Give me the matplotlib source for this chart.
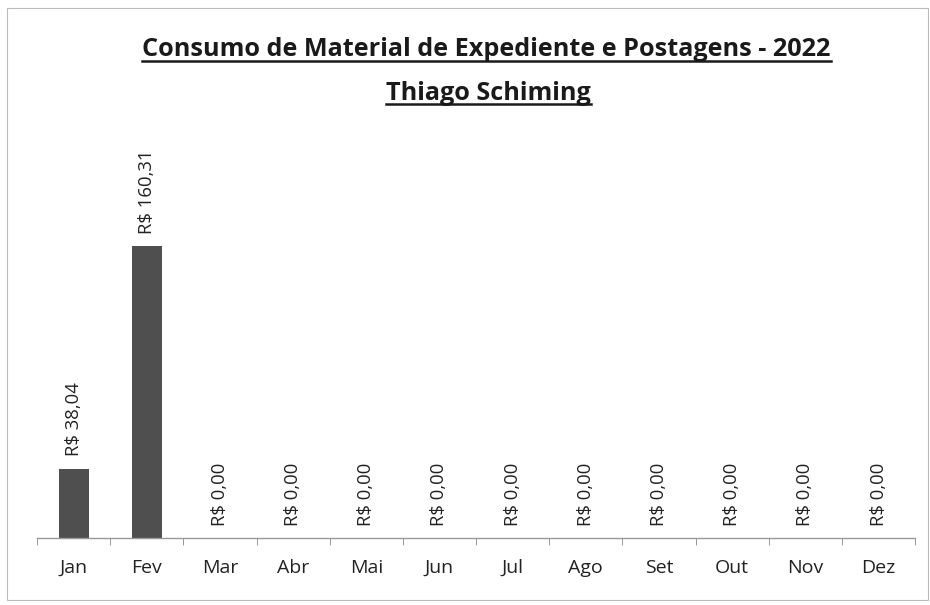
import matplotlib.pyplot as plt
from matplotlib.patches import Rectangle
import numpy as np

meses = ["Jan", "Fev", "Mar", "Abr", "Mai", "Jun", "Jul", "Ago", "Set", "Out", "Nov", "Dez"]
valores = [38.04, 160.31, 0, 0, 0, 0, 0, 0, 0, 0, 0, 0]
titulo = "Consumo de Material de Expediente e Postagens - 2022"
subtitulo = "Thiago Schiming"

plt.rcParams['font.family'] = ['Open Sans', 'DejaVu Sans']

fig = plt.figure(figsize=(9.3, 6.05), dpi=100)
ax = fig.add_axes([0.0398, 0.1107, 0.9442, 0.658])

x = np.arange(len(meses))
ax.bar(x, valores, width=0.41, color="#4f4f4f")

def fmt(v):
    return "R$ " + f"{v:.2f}".replace(".", ",")

for xi, v in zip(x, valores):
    ax.annotate(fmt(v), (xi, v), xytext=(0, 9), textcoords="offset points",
                rotation=90, ha="center", va="bottom", fontsize=13.3, color="#222222")

ax.set_xlim(-0.5, len(meses) - 0.5)
ax.set_ylim(0, 218.7)
ax.set_xticks(x)
ax.set_xticklabels(meses, fontsize=14, color="#222222")
ax.tick_params(axis="x", length=0, pad=15)
ax.set_xticks(np.arange(-0.5, len(meses), 1), minor=True)
ax.tick_params(axis="x", which="minor", length=5, color="#888888", direction="out")
ax.set_yticks([])
for s in ["top", "right", "left"]:
    ax.spines[s].set_visible(False)
ax.spines["bottom"].set_color("#999999")
ax.spines["bottom"].set_linewidth(1.0)

# borda do grafico
fig.patches.append(Rectangle((0.008, 0.008), 0.99, 0.978, transform=fig.transFigure,
                             fill=False, edgecolor="#bbbbbb", linewidth=0.8))

t1 = fig.text(0.523, 0.907, titulo, ha="center", va="baseline", fontsize=18.2,
              fontweight="bold", color="#1a1a1a")
t2 = fig.text(0.525, 0.835, subtitulo, ha="center", va="baseline", fontsize=18.2,
              fontweight="bold", color="#1a1a1a")

fig.canvas.draw()
r = fig.canvas.get_renderer()
for t in (t1, t2):
    bb = t.get_window_extent(r).transformed(fig.transFigure.inverted())
    y = t.get_position()[1] - 0.007
    fig.add_artist(plt.Line2D([bb.x0, bb.x1], [y, y], transform=fig.transFigure,
                              color="#1a1a1a", linewidth=1.8))

fig.savefig("out.png", dpi=100, facecolor="white")
